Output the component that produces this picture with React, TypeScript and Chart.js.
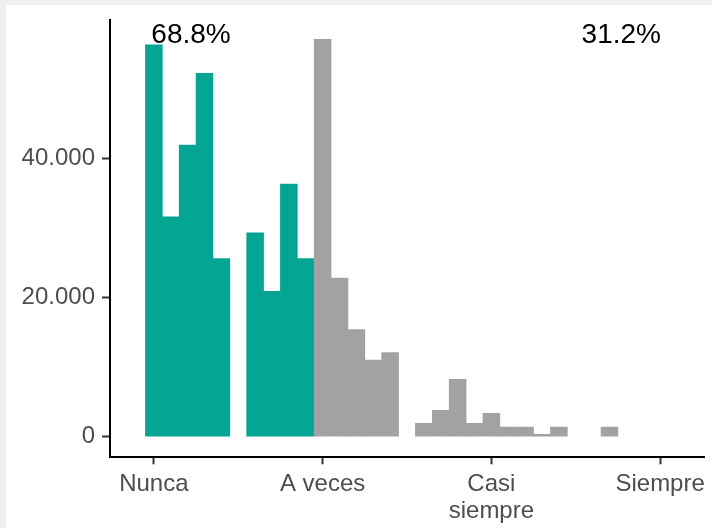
import React, { useEffect, useRef } from 'react';
import { Chart, registerables } from 'chart.js';

Chart.register(...registerables);

// ---- data ----
const binCenters = [
  1.0, 1.1, 1.2, 1.3, 1.4, 1.5, 1.6, 1.7, 1.8, 1.9,
  2.0, 2.1, 2.2, 2.3, 2.4, 2.5, 2.6, 2.7, 2.8, 2.9,
  3.0, 3.1, 3.2, 3.3, 3.4, 3.5, 3.6, 3.7,
];
const counts = [
  56300, 31600, 41900, 52200, 25600, 0, 29300, 20900, 36300, 25600,
  57100, 22800, 15400, 11000, 12100, 0, 1920, 3790, 8250, 1920,
  3360, 1390, 1390, 345, 1390, 0, 0, 1390,
];
const groupSplit = 1.95; // bins below this belong to the 68.8% group
const xTickValues = [1, 2, 3, 4];
const xTickLabels: (string | string[])[] = ['Nunca', 'A veces', ['Casi', 'siempre'], 'Siempre'];
const yTickValues = [0, 20000, 40000];
const yTickLabels = ['0', '20.000', '40.000'];
const annotLabels = ['68.8%', '31.2%'];
const annotX = [1.22, 3.77];
const annotY = [56500, 56500];

const TEAL = '#05A593';
const GRAY = '#A2A2A2';
const FONT = '"Liberation Sans", Arial, sans-serif';

const annotPlugin = {
  id: 'annotText',
  afterDatasetsDraw(chart: any) {
    const { ctx, scales } = chart;
    ctx.save();
    ctx.font = `28px ${FONT}`;
    ctx.fillStyle = '#000000';
    ctx.textAlign = 'center';
    ctx.textBaseline = 'alphabetic';
    annotLabels.forEach((t, i) => {
      ctx.fillText(t, scales.x.getPixelForValue(annotX[i]), scales.y.getPixelForValue(annotY[i]));
    });
    ctx.restore();
  },
};

export default function App() {
  const ref = useRef<HTMLCanvasElement | null>(null);

  useEffect(() => {
    if (!ref.current) return;
    const points = binCenters
      .map((x, i) => ({ x, y: counts[i] }))
      .filter((p) => p.y > 0);
    const chart = new Chart(ref.current, {
      type: 'bar',
      data: {
        datasets: [
          {
            data: points,
            backgroundColor: points.map((p) => (p.x < groupSplit ? TEAL : GRAY)),
            borderWidth: 0,
            barPercentage: 1,
            categoryPercentage: 1,
          },
        ],
      },
      options: {
        animation: false,
        responsive: false,
        events: [],
        layout: { padding: { top: 15, right: 8, left: 0, bottom: 0 } },
        plugins: { legend: { display: false }, tooltip: { enabled: false } },
        scales: {
          x: {
            type: 'linear',
            offset: false,
            min: 0.74,
            max: 4.26,
            afterBuildTicks: (scale: any) => {
              scale.ticks = xTickValues.map((v) => ({ value: v }));
            },
            afterFit: (scale: any) => {
              scale.height = 70.7;
              scale.paddingLeft = 0;
              scale.paddingRight = 0;
            },
            grid: {
              offset: false,
              drawOnChartArea: false,
              drawTicks: true,
              tickLength: 7,
              tickWidth: 2,
              tickColor: '#333333',
            },
            border: { display: true, color: '#000000', width: 2 },
            ticks: {
              autoSkip: false,
              maxRotation: 0,
              padding: 6,
              color: '#4D4D4D',
              font: { family: FONT, size: 24, lineHeight: 1.15 },
              callback: (value: any) => {
                const i = xTickValues.indexOf(Number(value));
                return i >= 0 ? xTickLabels[i] : '';
              },
            },
          },
          y: {
            type: 'linear',
            min: -2960,
            max: 59870,
            afterBuildTicks: (scale: any) => {
              scale.ticks = yTickValues.map((v) => ({ value: v }));
            },
            afterFit: (scale: any) => {
              scale.width = 104;
              scale.paddingTop = 0;
              scale.paddingBottom = 0;
            },
            grid: {
              drawOnChartArea: false,
              drawTicks: true,
              tickLength: 8,
              tickWidth: 2,
              tickColor: '#333333',
            },
            border: { display: true, color: '#000000', width: 2 },
            ticks: {
              padding: 7,
              color: '#4D4D4D',
              font: { family: FONT, size: 24 },
              callback: (value: any) => {
                const i = yTickValues.indexOf(Number(value));
                return i >= 0 ? yTickLabels[i] : '';
              },
            },
          },
        },
      },
      plugins: [annotPlugin],
    } as any);
    return () => chart.destroy();
  }, []);

  return (
    <div
      style={{
        position: 'fixed',
        left: 0,
        top: 0,
        width: 712,
        height: 528,
        background: '#F0F0F0',
      }}
    >
      <div
        style={{
          position: 'absolute',
          left: 6,
          top: 5,
          width: 706,
          height: 523,
          background: '#FFFFFF',
        }}
      >
        <canvas ref={ref} width={706} height={523} style={{ display: 'block', width: 706, height: 523 }} />
      </div>
    </div>
  );
}
